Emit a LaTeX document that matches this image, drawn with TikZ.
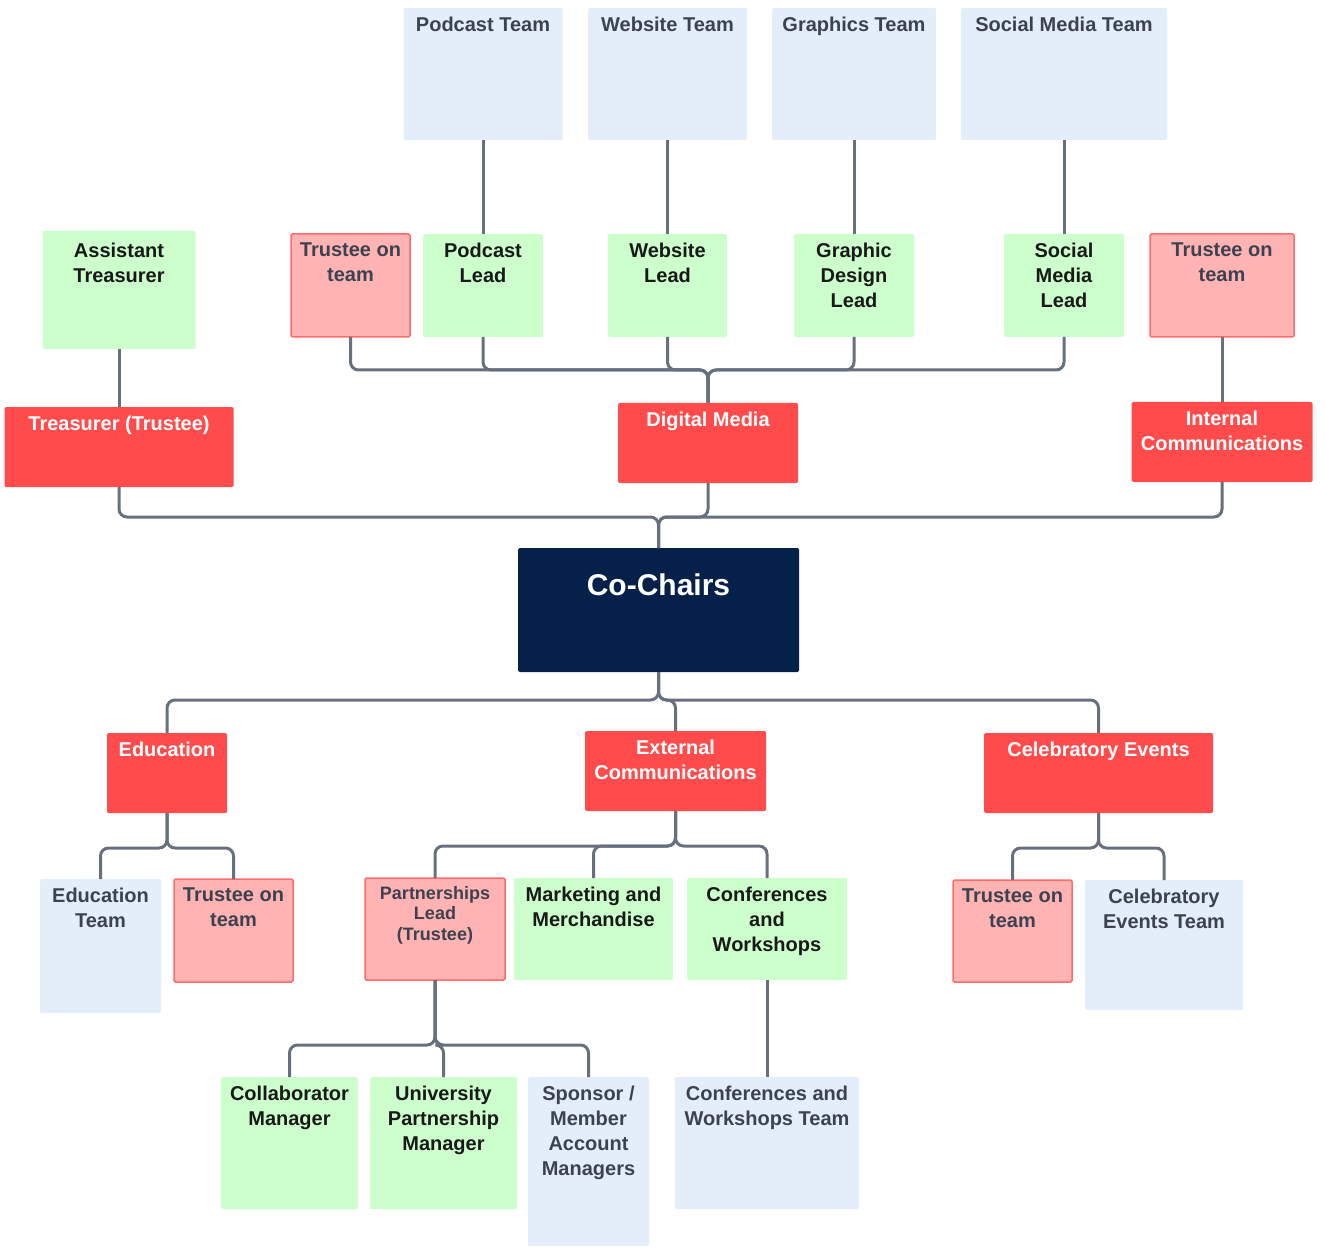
\documentclass[tikz,border=0pt]{standalone}
\usepackage{fontspec}
\setmainfont{Liberation Sans}
\definecolor{deptred}{HTML}{FF4B4B}
\definecolor{trusteepink}{HTML}{FFB3B3}
\definecolor{trusteeedge}{HTML}{FF6B6B}
\definecolor{leadgreen}{HTML}{CCFFCC}
\definecolor{teamblue}{HTML}{E4EEFB}
\definecolor{chairnavy}{HTML}{062149}
\definecolor{linkgrey}{HTML}{687080}
\definecolor{textgrey}{HTML}{3C4250}
\tikzset{
  box/.style={rectangle, inner sep=0pt, outer sep=0pt, rounded corners=1.5pt},
  teambox/.style={box, fill=teamblue},
  leadbox/.style={box, fill=leadgreen},
  trusteebox/.style={box, fill=trusteepink, draw=trusteeedge, line width=1.5pt},
  deptbox/.style={box, fill=deptred},
  chairbox/.style={box, fill=chairnavy},
  lbl/.style={anchor=north, inner sep=9pt, align=center, font=\fontsize{20}{25}\selectfont\bfseries},
  greytitle/.style={label={[lbl, text=textgrey]north:{#1}}},
  darktitle/.style={label={[lbl, text=black!90]north:{#1}}},
  whitetitle/.style={label={[lbl, text=white]north:{#1}}},
  link/.style={draw=linkgrey, line width=3pt, rounded corners=8pt}
}
\begin{document}
\begin{tikzpicture}[x=1pt, y=-1pt]
	\useasboundingbox (0,0) rectangle (1326,1249);
	
	% Draw the teams along the top
	\node[teambox, greytitle={Podcast Team}, minimum width=159pt, minimum height=132pt] (podteam) at (483,74) {};
	\node[teambox, greytitle={Website Team}, minimum width=159pt, minimum height=132pt] (webteam) at (667.5,74) {};
	\node[teambox, greytitle={Graphics Team}, minimum width=164pt, minimum height=132pt] (grateam) at (854,74) {};
	\node[teambox, greytitle={Social Media Team}, minimum width=206pt, minimum height=132pt] (socteam) at (1064,74) {};
	
	% Draw the leads and trustees
	\node[leadbox, label={[lbl, text=black!90, yshift=-3pt]north:{Assistant\\Treasurer}}, minimum width=153pt, minimum height=118pt] (asstreas) at (119,290) {};
	\node[trusteebox, greytitle={Trustee on\\team}, minimum width=119pt, minimum height=103pt] (trustA) at (350.5,285.5) {};
	\node[leadbox, darktitle={Podcast\\Lead}, minimum width=120pt, minimum height=103pt] (podlead) at (483,285.5) {};
	\node[leadbox, darktitle={Website\\Lead}, minimum width=119pt, minimum height=103pt] (weblead) at (667.5,285.5) {};
	\node[leadbox, darktitle={Graphic\\Design\\Lead}, minimum width=120pt, minimum height=103pt] (gralead) at (854,285.5) {};
	\node[leadbox, darktitle={Social\\Media\\Lead}, minimum width=120pt, minimum height=103pt] (soclead) at (1064,285.5) {};
	\node[trusteebox, greytitle={Trustee on\\team}, minimum width=144pt, minimum height=103pt] (trustB) at (1222,285.5) {};
	
	% Draw the upper departments
	\node[deptbox, whitetitle={Treasurer (Trustee)}, minimum width=229pt, minimum height=80pt] (treasurer) at (119,447) {};
	\node[deptbox, whitetitle={Digital Media}, minimum width=180pt, minimum height=80pt] (digital) at (708,443) {};
	\node[deptbox, whitetitle={Internal\\Communications}, minimum width=181pt, minimum height=80pt] (internal) at (1222,442) {};
	
	% Draw the co-chairs
	\node[chairbox, label={[lbl, text=white, inner sep=26pt, font=\fontsize{30}{36}\selectfont\bfseries]north:{Co-Chairs}}, minimum width=281pt, minimum height=124pt] (chairs) at (658.5,610) {};
	
	% Draw the lower departments
	\node[deptbox, whitetitle={Education}, minimum width=120pt, minimum height=80pt] (education) at (167,773) {};
	\node[deptbox, whitetitle={External\\Communications}, minimum width=181pt, minimum height=80pt] (external) at (675.5,771) {};
	\node[deptbox, whitetitle={Celebratory Events}, minimum width=229pt, minimum height=80pt] (events) at (1098.5,773) {};
	
	% Draw the roles under each department
	\node[teambox, greytitle={Education\\Team}, minimum width=121pt, minimum height=134pt] (eduteam) at (100.5,946) {};
	\node[trusteebox, greytitle={Trustee on\\team}, minimum width=119pt, minimum height=103pt] (trustC) at (233.5,930.5) {};
	\node[trusteebox, label={[lbl, text=textgrey, inner sep=8pt, font=\fontsize{18}{20.5}\selectfont\bfseries]north:{Partnerships\\Lead\\(Trustee)}}, minimum width=140pt, minimum height=102pt] (partner) at (435,929) {};
	\node[leadbox, darktitle={Marketing and\\Merchandise}, minimum width=159pt, minimum height=102pt] (marketing) at (593.5,929) {};
	\node[leadbox, darktitle={Conferences\\and\\Workshops}, minimum width=160pt, minimum height=102pt] (confs) at (767,929) {};
	\node[trusteebox, greytitle={Trustee on\\team}, minimum width=119pt, minimum height=102pt] (trustD) at (1012.5,931) {};
	\node[teambox, greytitle={Celebratory\\Events Team}, minimum width=158pt, minimum height=130pt] (eventsteam) at (1164,945) {};
	
	% Draw the partnership roles and the conference team
	\node[leadbox, darktitle={Collaborator\\Manager}, minimum width=137pt, minimum height=132pt] (collab) at (289.5,1143) {};
	\node[leadbox, darktitle={University\\Partnership\\Manager}, minimum width=147pt, minimum height=132pt] (univ) at (443.5,1143) {};
	\node[teambox, greytitle={Sponsor /\\Member\\Account\\Managers}, minimum width=121pt, minimum height=169pt] (sponsor) at (588.5,1161.5) {};
	\node[teambox, greytitle={Conferences and\\Workshops Team}, minimum width=184pt, minimum height=132pt] (confteam) at (767,1143) {};
	
	% Draw the connectors
	\draw[link] (podteam.south) -- (podlead.north);
	\draw[link] (webteam.south) -- (weblead.north);
	\draw[link] (grateam.south) -- (gralead.north);
	\draw[link] (socteam.south) -- (soclead.north);
	\draw[link] (asstreas.south) -- (treasurer.north);
	\draw[link] (trustB.south) -- (internal.north);
	
	\coordinate (mediabus) at (708,370);
	\foreach \n in {trustA, podlead, weblead, gralead, soclead}
		\draw[link] (\n.south) |- (mediabus) -- (digital.north);
	
	\coordinate (chairbus) at (658.5,517);
	\foreach \n in {treasurer, digital, internal}
		\draw[link] (\n.south) |- (chairbus) -- (chairs.north);
	
	\coordinate (deptbus) at (658.5,700);
	\foreach \n in {education, external, events}
		\draw[link] (chairs.south) -- (deptbus) -| (\n.north);
	
	\coordinate (edubus) at (167,848);
	\foreach \n in {eduteam, trustC}
		\draw[link] (education.south) -- (edubus) -| (\n.north);
	
	\coordinate (extbus) at (675.5,846);
	\foreach \n in {partner, marketing, confs}
		\draw[link] (external.south) -- (extbus) -| (\n.north);
	
	\coordinate (eventbus) at (1098.5,848);
	\foreach \n in {trustD, eventsteam}
		\draw[link] (events.south) -- (eventbus) -| (\n.north);
	
	\coordinate (partbus) at (435,1045);
	\foreach \n in {collab, univ, sponsor}
		\draw[link] (partner.south) -- (partbus) -| (\n.north);
	
	\draw[link] (confs.south) -- (confteam.north);
	
\end{tikzpicture}
\end{document}
